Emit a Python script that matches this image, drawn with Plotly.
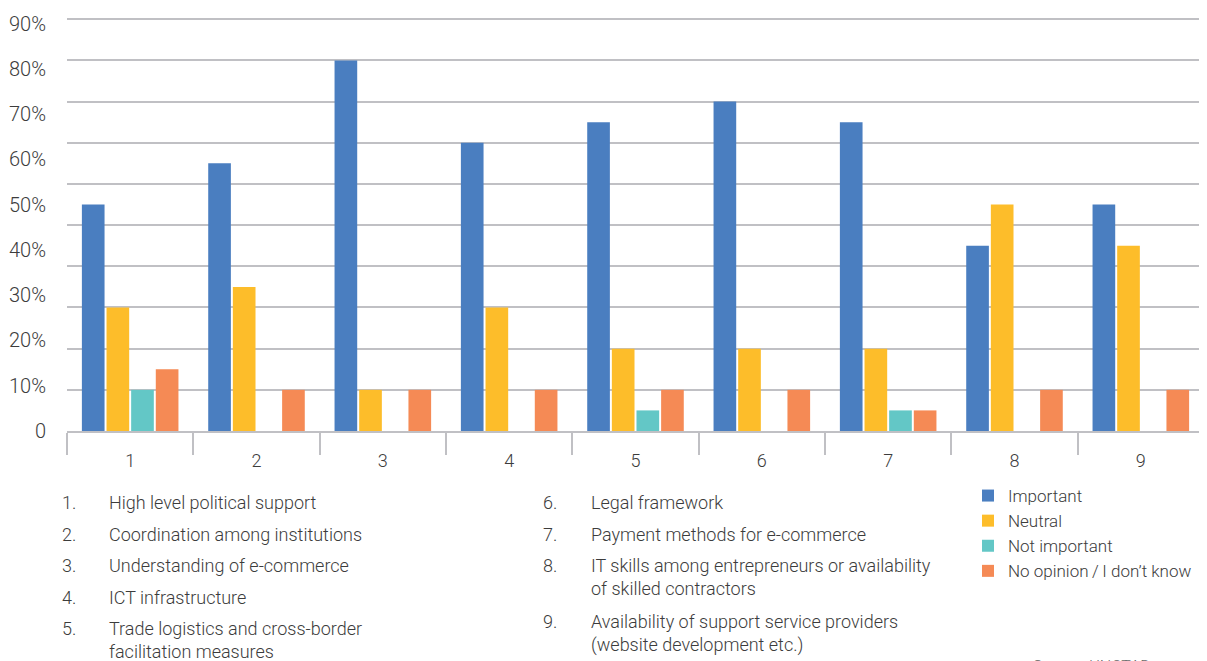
import plotly.graph_objects as go

categories = ["1", "2", "3", "4", "5", "6", "7", "8", "9"]
important = [55, 65, 90, 70, 75, 80, 75, 45, 55]
neutral = [30, 35, 10, 30, 20, 20, 20, 55, 45]
not_important = [10, 0, 0, 0, 5, 0, 5, 0, 0]
no_opinion = [15, 10, 10, 10, 10, 10, 5, 10, 10]

y_tick_labels = ["0", "10%", "20%", "30%", "40%", "50%", "60%", "70%", "80%", "90%"]
label_step = 10.99  # labels in the original are spread slightly wider than the gridlines

items_left = [
    ("1.", "High level political support"),
    ("2.", "Coordination among institutions"),
    ("3.", "Understanding of e-commerce"),
    ("4.", "ICT infrastructure"),
    ("5.", "Trade logistics and cross-border<br>facilitation measures"),
]
items_right = [
    ("6.", "Legal framework"),
    ("7.", "Payment methods for e-commerce"),
    ("8.", "IT skills among entrepreneurs or availability<br>of skilled contractors"),
    ("9.", "Availability of support service providers<br>(website development etc.)"),
]

series = [
    ("Important", important, "#4A7EC0"),
    ("Neutral", neutral, "#FDBD2A"),
    ("Not important", not_important, "#63C7C6"),
    ("No opinion\u2009/\u2009I don\u2019t know", no_opinion, "#F58A55"),
]

FONT = "Roboto"
WEIGHT = 300
TXT = "#3c3c3c"
OFF = 8  # default page body margin
W, H = 1207 - OFF, 661 - OFF
L, R, T, B = 67 - OFF, 3, 18 - OFF, 230
PW, PH = W - L - R, H - T - B

def px(x):
    """page pixel x -> paper coordinate"""
    return (x - OFF - L) / PW

def py(y):
    """page pixel y -> paper coordinate"""
    return (H - B - (y - OFF)) / PH

def fnt(size=18, color=TXT):
    return dict(size=size, color=color, family=FONT, weight=WEIGHT)

fig = go.Figure()
for name, vals, color in series:
    fig.add_trace(go.Bar(x=categories, y=vals, name=name, marker_color=color,
                         marker_line_width=0))

annotations = []
left_rows = [490, 522, 553, 585, 616]
right_rows = [490, 522, 553, 609]
for (num, text), top in zip(items_left, left_rows):
    annotations.append(dict(x=px(60), y=py(top), text=num, xanchor="left", yanchor="top"))
    annotations.append(dict(x=px(107), y=py(top), text=text, xanchor="left", yanchor="top", align="left"))
for (num, text), top in zip(items_right, right_rows):
    annotations.append(dict(x=px(541), y=py(top), text=num, xanchor="left", yanchor="top"))
    annotations.append(dict(x=px(589), y=py(top), text=text, xanchor="left", yanchor="top", align="left"))
annotations.append(dict(x=px(1031), y=py(655), text="Source: UNCTAD.", xanchor="left", yanchor="top",
                        font=fnt(16, "#6a6a6a")))
for a in annotations:
    a.update(xref="paper", yref="paper", showarrow=False)
    a.setdefault("font", fnt())

fig.update_layout(
    template="none",
    width=W, height=H,
    margin=dict(l=L, r=R, t=T, b=B, pad=0, autoexpand=False),
    paper_bgcolor="white", plot_bgcolor="white",
    barmode="group", bargap=0.22, bargroupgap=0.08,
    font=fnt(),
    showlegend=True,
    legend=dict(x=px(968), y=py(478), xanchor="left", yanchor="top",
                bgcolor="rgba(0,0,0,0)", font=fnt(17), borderwidth=0,
                tracegroupgap=0, itemwidth=30, traceorder="normal"),
    annotations=annotations,
    xaxis=dict(type="category", showgrid=False, showline=True, linecolor="#c0c0c4", linewidth=2,
               ticks="outside", tickson="boundaries", ticklen=22, tickwidth=2, tickcolor="#c0c0c4",
               ticklabelstandoff=12, automargin=False,
               tickfont=fnt(18), fixedrange=True),
    yaxis=dict(range=[0, 100.3], showgrid=False, zeroline=False, showline=False,
               tickvals=[i * label_step for i in range(len(y_tick_labels))],
               ticktext=y_tick_labels, ticks="outside", ticklen=16, tickcolor="rgba(0,0,0,0)",
               automargin=False, tickfont=fnt(20),
               minor=dict(tick0=0, dtick=10, showgrid=True, gridcolor="#c0c0c4", gridwidth=2),
               fixedrange=True),
)

fig.write_html("out.html")
